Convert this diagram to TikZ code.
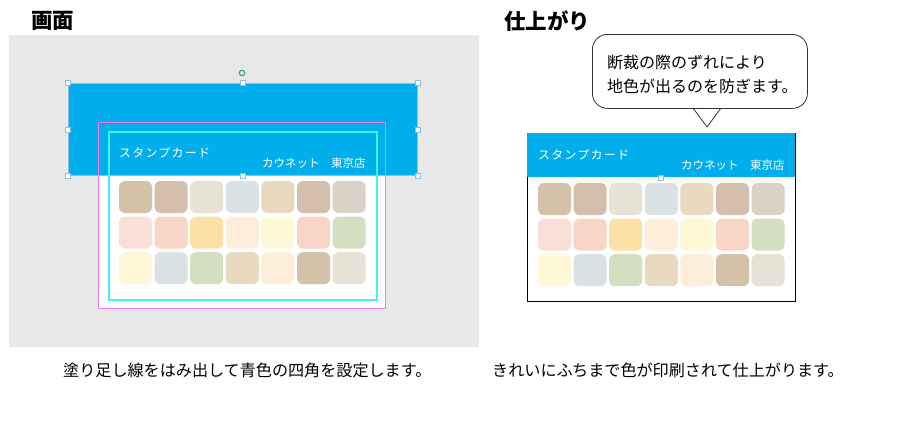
\documentclass[tikz,border=0pt]{standalone}
\usepackage{fontspec}
\newfontfamily\cjk{Noto Sans CJK JP}
\newfontfamily\cjksp[LetterSpace=10]{Noto Sans CJK JP}
\definecolor{bgray}{HTML}{E8E8E8}
\definecolor{cblue}{HTML}{00AEEB}
\definecolor{selblue}{HTML}{8FBDEB}
\definecolor{bleedmag}{HTML}{F07CF0}
\definecolor{trimcyan}{HTML}{40F4F4}
\definecolor{rotgreen}{HTML}{20B060}
\begin{document}
\begin{tikzpicture}[x=1pt,y=-1pt,
  handle/.style={draw=selblue,fill=white,line width=0.6pt,minimum size=5pt,inner sep=0pt,rectangle},
  tile/.style={rectangle,rounded corners=6pt,minimum width=33pt,minimum height=32pt,inner sep=0pt,fill=#1},
  title/.style={font=\cjk\bfseries\fontsize{21.5pt}{24pt}\selectfont,anchor=west,inner sep=0pt},
  captext/.style={font=\cjk\fontsize{16.1pt}{18pt}\selectfont,anchor=west,inner sep=0pt},
  cardtitle/.style={font=\cjksp\fontsize{12pt}{14pt}\selectfont,text=white,anchor=west,inner sep=0pt},
  cardshop/.style={font=\cjk\fontsize{11.5pt}{13pt}\selectfont,text=white,anchor=west,inner sep=0pt}]
\useasboundingbox (0,0) rectangle (901,434);
% titles
\node[title] (t1) at (31,21) {画面};
\node[title] (t2) at (504,21) {仕上がり};
% left panel
\node[fill=bgray,minimum width=470pt,minimum height=312pt,inner sep=0pt,anchor=north west] (screen) at (9,35) {};
\node[fill=white,minimum width=287pt,minimum height=186pt,inner sep=0pt,anchor=north west] (lcard) at (98,122) {};
\node[fill=cblue,draw=selblue,line width=0.6pt,minimum width=349pt,minimum height=92pt,inner sep=0pt,anchor=north west] (blue) at (68,83) {};
\node[draw=bleedmag,line width=0.8pt,minimum width=287pt,minimum height=186pt,inner sep=0pt,anchor=north west] (bleed) at (98,122) {};
\node[draw=trimcyan,line width=1.5pt,minimum width=268pt,minimum height=168pt,inner sep=0pt,anchor=north west] (trim) at (108,131) {};
\node[cardtitle] (lct) at (119,152.5) {スタンプカード};
\node[cardshop] (lcs) at (262,163.5) {カウネット　東京店};
% right card
\node[fill=white,draw=black,line width=0.8pt,minimum width=268pt,minimum height=168pt,inner sep=0pt,anchor=north west] (rcard) at (527,133) {};
\fill[cblue] (527.4,133.4) rectangle (794.6,177);
\node[cardtitle] (rct) at (538,154.5) {スタンプカード};
\node[cardshop] (rcs) at (681,165.5) {カウネット　東京店};
% tiles
\foreach \c [count=\i] in {D4C2A8,D4BFAD,E6E2D6,DAE2E5,E8D9BF,D4BFAD,DAD1C7}{
  \definecolor{tc}{HTML}{\c}
  \node[tile=tc] (L1\i) at ({135.5+35.6*(\i-1)},197) {};
  \node[tile=tc] (R1\i) at ({554.5+35.6*(\i-1)},199) {};
}
\foreach \c [count=\i] in {FADFD9,F9D5C7,FDE0A5,FDEDD9,FFF8D5,F9D5C7,D4DEC0}{
  \definecolor{tc}{HTML}{\c}
  \node[tile=tc] (L2\i) at ({135.5+35.6*(\i-1)},232.6) {};
  \node[tile=tc] (R2\i) at ({554.5+35.6*(\i-1)},234.6) {};
}
\foreach \c [count=\i] in {FFF8D7,DAE2E5,D4DEC0,E8D9BF,FDEEDA,D4C2A8,E6E2D6}{
  \definecolor{tc}{HTML}{\c}
  \node[tile=tc] (L3\i) at ({135.5+35.6*(\i-1)},268.2) {};
  \node[tile=tc] (R3\i) at ({554.5+35.6*(\i-1)},270.2) {};
}
% selection handles
\node[handle] (h1) at (blue.north west) {};
\node[handle] (h2) at (blue.north) {};
\node[handle] (h3) at (blue.north east) {};
\node[handle] (h4) at (blue.west) {};
\node[handle] (h5) at (blue.east) {};
\node[handle] (h6) at (blue.south west) {};
\node[handle] (h7) at (blue.south) {};
\node[handle] (h8) at (blue.south east) {};
\node[circle,draw=rotgreen,line width=1.1pt,minimum size=5.5pt,inner sep=0pt] (rot) at (242,73) {};
\node[handle] (h9) at (661,178) {};
% callout
\node[draw=black!80,fill=white,line width=0.8pt,rounded corners=15pt,minimum width=215pt,minimum height=74pt,inner sep=0pt,anchor=north west] (callout) at (592,34) {};
\coordinate (tip) at (707,127);
\coordinate (pa) at (693,108);
\coordinate (pb) at (721,108);
\fill[white] ([yshift=-1.2pt]pa) -- ([yshift=-1.2pt]pb) -- (tip) -- cycle;
\draw[black!80,line width=0.8pt] (pa) -- (tip) -- (pb);
\node[font=\cjk\fontsize{16pt}{24pt}\selectfont,align=left,anchor=north west,inner sep=0pt] (ctext) at (607,55) {断裁の際のずれにより\\地色が出るのを防ぎます。};
% captions
\node[captext] (c1) at (63,370) {塗り足し線をはみ出して青色の四角を設定します。};
\node[captext] (c2) at (492,370) {きれいにふちまで色が印刷されて仕上がります。};
\end{tikzpicture}
\end{document}
